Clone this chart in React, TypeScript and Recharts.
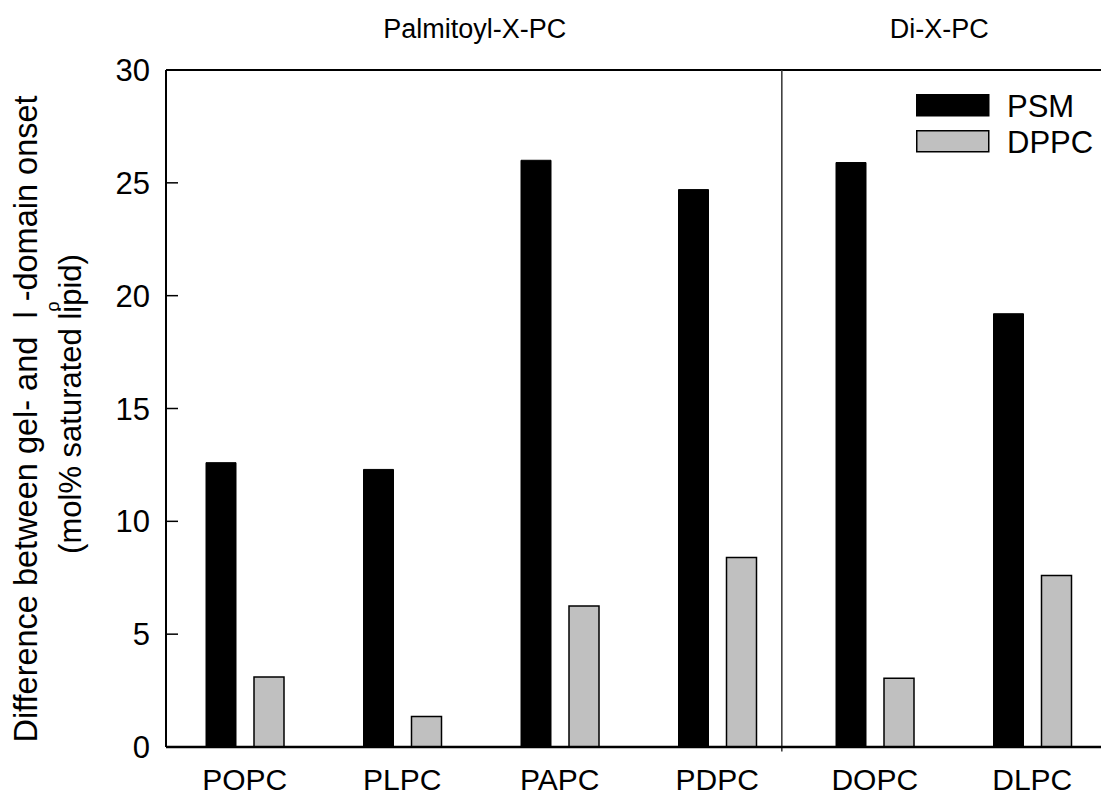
import React from "react";
import { BarChart, Bar, XAxis, YAxis, ReferenceLine } from "recharts";

// values
const lipids = ["POPC", "PLPC", "PAPC", "PDPC", "DOPC", "DLPC"];
const psm = [12.6, 12.3, 26.0, 24.7, 25.9, 19.2];
const dppc = [3.1, 1.35, 6.25, 8.4, 3.05, 7.6];
const yTicks = [0, 5, 10, 15, 20, 25, 30];

// group headers, placed along the category axis (in category units, 0..6)
const groupTitles = ["Palmitoyl-X-PC", "Di-X-PC"];
const groupCenters = [1.96, 4.91];
const dividerAt = 3.91;

const series = [
  { key: "psm", name: "PSM", fill: "#000000" },
  { key: "dppc", name: "DPPC", fill: "#c0c0c0" },
];

const rows = lipids.map((name, i) => ({ name, pos: i + 0.5, psm: psm[i], dppc: dppc[i] }));

const FONT = '"Liberation Sans", Arial, Helvetica, sans-serif';

function Overlay() {
  return (
    <svg
      width={1101}
      height={796}
      style={{ position: "absolute", left: 0, top: 0, pointerEvents: "none", fontFamily: FONT }}
    >
      {/* y axis title, two lines */}
      <text x={37} y={419} transform="rotate(-90 37 419)" textAnchor="middle" fontSize={32.5} fill="#000">
        Difference between gel- and{"\u00a0\u00a0"}l
        <tspan dy={22} fontSize={18}>o</tspan>
        <tspan dy={-22}>-domain onset</tspan>
      </text>
      <text x={81} y={404} transform="rotate(-90 81 404)" textAnchor="middle" fontSize={31} fill="#000">
        (mol% saturated lipid)
      </text>
      {/* legend */}
      {series.map((s, i) => (
        <g key={s.key} transform={`translate(916 ${94 + i * 36})`}>
          <rect x={0.75} y={0.75} width={72} height={21} fill={s.fill} stroke="#000" strokeWidth={1.5} />
          <text x={91} y={23} fontSize={31} fill="#000">
            {s.name}
          </text>
        </g>
      ))}
    </svg>
  );
}

export default function App() {
  return (
    <div style={{ position: "relative", width: 1101, height: 796, overflow: "hidden", fontFamily: FONT }}>
      <style>{`body{margin:0}`}</style>
      <BarChart
        width={1120}
        height={796}
        data={rows}
        margin={{ top: 70, right: 0, bottom: 0, left: 106 }}
        barGap={18}
      >
        <XAxis
          xAxisId="cat"
          dataKey="name"
          axisLine={{ stroke: "#000", strokeWidth: 2.5 }}
          tickLine={false}
          tickMargin={16}
          height={49}
          tick={{ fontSize: 30, fill: "#000", fontFamily: FONT }}
        />
        <XAxis xAxisId="pos" dataKey="pos" type="number" domain={[0, 6]} hide allowDataOverflow />
        <YAxis
          yAxisId="left"
          domain={[0, 30]}
          ticks={yTicks}
          width={60}
          axisLine={{ stroke: "#000", strokeWidth: 2 }}
          tickLine={{ stroke: "#000", strokeWidth: 1.5 }}
          tickSize={-12}
          tickMargin={28}
          tick={{ fontSize: 31, fill: "#000", fontFamily: FONT }}
        />
        <YAxis
          yAxisId="right"
          orientation="right"
          domain={[0, 30]}
          ticks={yTicks}
          width={9}
          axisLine={{ stroke: "#000", strokeWidth: 2 }}
          tickLine={{ stroke: "#000", strokeWidth: 1.5 }}
          tickSize={-12}
          tick={() => <g />}
        />
        <ReferenceLine yAxisId="left" xAxisId="cat" y={30} stroke="#000" strokeWidth={2} />
        <ReferenceLine
          xAxisId="pos"
          yAxisId="left"
          segment={[
            { x: dividerAt, y: 30 },
            { x: dividerAt, y: -0.2 },
          ]}
          ifOverflow="visible"
          stroke="#333"
          strokeWidth={1.5}
        />
        {groupTitles.map((t, i) => (
          <ReferenceLine
            key={t}
            xAxisId="pos"
            yAxisId="left"
            x={groupCenters[i]}
            stroke="none"
            label={{ value: t, position: "top", offset: 32, fontSize: 27, fill: "#000", fontFamily: FONT }}
          />
        ))}
        {series.map((s) => (
          <Bar
            key={s.key}
            xAxisId="cat"
            yAxisId="left"
            dataKey={s.key}
            name={s.name}
            fill={s.fill}
            stroke="#000"
            strokeWidth={s.key === "psm" ? 1 : 1.5}
            barSize={30}
            isAnimationActive={false}
          />
        ))}
      </BarChart>
      <Overlay />
    </div>
  );
}
